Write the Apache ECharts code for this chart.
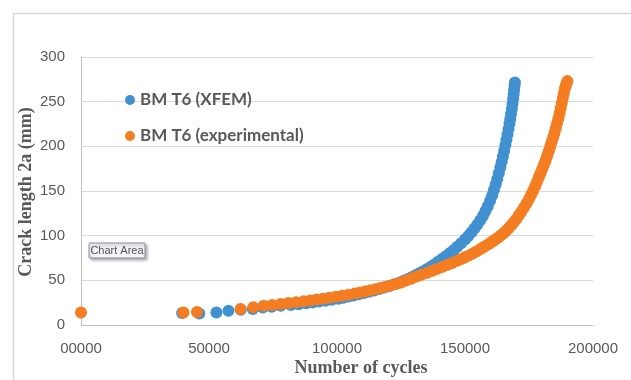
<!DOCTYPE html>
<html>
<head>
<meta charset="utf-8">
<script src="https://cdn.jsdelivr.net/npm/echarts@6/dist/echarts.min.js"></script>
<style>
  html, body { margin: 0; padding: 0; background: #fff; }
  #chart { width: 631px; height: 380px; }
</style>
</head>
<body>
<div id="chart"></div>
<script>
// Crack growth curves: crack length 2a (mm) against number of load cycles.
const seriesNames = ['BM T6 (XFEM)', 'BM T6 (experimental)'];

const xfemCycles = [
  39500, 46200, 52900, 57600, 62400, 67100, 71000, 74500, 78000, 82000,
  85000, 88000, 90500, 93000, 95500, 98000, 100500, 102500, 104500, 106500,
  108500, 110500, 112500, 114500, 116500, 118500, 120500, 122500, 124500, 126000,
  127500, 129000, 130500, 132000, 133500, 135000, 136500, 138000, 139500, 141000,
  142500, 144000, 145500, 147000, 148500, 150000, 151300, 152500, 153700, 154800,
  155900, 157000, 158000, 158900, 159800, 160600, 161300, 162000, 162600, 163200,
  163800, 164300, 164800, 165300, 165800, 166200, 166600, 167000, 167400, 167700,
  168000, 168300, 168550, 168800, 169000, 169200, 169350, 169500
];
const xfemCrack = [
  13.5, 13, 14, 16, 17, 18, 19.5, 20.5, 21.5, 22.5,
  23.3, 24.3, 25.2, 26.2, 27.2, 28.3, 29.5, 30.6, 31.8, 33,
  34.3, 35.7, 37.1, 38.6, 40.2, 41.9, 43.7, 45.6, 47.7, 49.4,
  51.3, 53.3, 55.5, 57.7, 60, 62.5, 65, 67.8, 70.7, 73.8,
  77, 80.3, 83.8, 87.5, 91.5, 95.7, 99.7, 103.8, 108, 112.3,
  117, 122, 127.5, 133, 139, 145, 151, 157.5, 163.5, 170,
  176.5, 182.5, 188.5, 195, 201.5, 207.5, 213.5, 219.5, 225.5, 231,
  236.5, 242, 247.5, 253, 258, 263, 267.5, 271.5
];

const expCycles = [
  0, 40000, 45300, 62300, 67300, 71400, 74700, 78000, 81000, 84000,
  87000, 89500, 92000, 94500, 97000, 99500, 102000, 104500, 107000, 109000,
  111000, 113000, 115000, 117000, 119000, 121000, 123000, 125000, 127000, 129000,
  131000, 133000, 135000, 137000, 139000, 141000, 143000, 145000, 147000, 148500,
  150000, 151500, 153000, 154500, 156000, 157500, 159000, 160000, 161000, 162000,
  163000, 164000, 165000, 166000, 167000, 168000, 169000, 170000, 171000, 172000,
  173000, 174000, 175000, 175800, 176600, 177400, 178100, 178800, 179500, 180200,
  180900, 181500, 182100, 182700, 183300, 183900, 184500, 185000, 185500, 186000,
  186500, 187000, 187400, 187800, 188200, 188600, 189000, 189400, 189800, 190000
];
const expCrack = [
  14, 14, 14.5, 18, 20, 21.5, 22.5, 23.5, 24.5, 25.5,
  26.5, 27.5, 28.5, 29.5, 30.5, 31.6, 32.7, 33.9, 35.2, 36.4,
  37.6, 38.8, 40, 41.3, 42.7, 44.2, 45.9, 47.7, 49.7, 51.9,
  54.2, 56.3, 58.3, 60.4, 62.6, 64.8, 67.1, 69.5, 72, 73.8,
  75.8, 77.8, 80, 82.4, 85, 87.6, 90, 92, 94, 96,
  98, 100.3, 102.7, 105.3, 108.2, 111.4, 114.8, 118.5, 122.5, 126.8,
  131.2, 136, 141, 145.5, 150.3, 155.3, 160, 165, 170, 175,
  180, 184.5, 189.5, 194.5, 199.8, 205, 210.5, 215.5, 220.5, 226,
  231.5, 237.5, 243, 248.5, 254, 259.5, 264.5, 268.5, 271.5, 273
];

const xTicks = { min: 0, max: 200000, interval: 50000 };
const yTicks = { min: 0, max: 300, interval: 50 };

const pairs = (xs, ys) => xs.map((x, i) => [x, ys[i]]);

const gray = '#595959';
const tickFont = 'Liberation Sans';

const chart = echarts.init(document.getElementById('chart'), null, { renderer: 'canvas' });

chart.setOption({
  backgroundColor: '#ffffff',
  animation: false,
  color: ['#4191d1', '#f47d22'],
  grid: { left: 81, right: 38, top: 57, bottom: 55, containLabel: false },
  legend: {
    orient: 'vertical',
    left: 120,
    top: 86,
    icon: 'circle',
    itemWidth: 10,
    itemHeight: 10,
    itemGap: 18,
    textStyle: { color: gray, fontFamily: 'Lato', fontWeight: 'bold', fontSize: 17, lineHeight: 18 },
    data: seriesNames
  },
  xAxis: {
    type: 'value',
    min: xTicks.min, max: xTicks.max, interval: xTicks.interval,
    axisLine: { show: true, lineStyle: { color: '#bfbfbf', width: 1 } },
    axisTick: { show: false },
    splitLine: { show: false },
    axisLabel: {
      color: gray, fontFamily: tickFont, fontSize: 15, margin: 16,
      formatter: v => (v === 0 ? '00000' : String(v))
    }
  },
  yAxis: {
    type: 'value',
    min: yTicks.min, max: yTicks.max, interval: yTicks.interval,
    axisLine: { show: true, lineStyle: { color: '#bfbfbf', width: 1 } },
    axisTick: { show: false },
    splitLine: { show: true, lineStyle: { color: '#d9d9d9', width: 1 } },
    axisLabel: { color: gray, fontFamily: tickFont, fontSize: 15, margin: 16 }
  },
  series: [
    {
      name: seriesNames[0], type: 'scatter', symbol: 'circle', symbolSize: 12,
      data: pairs(xfemCycles, xfemCrack), itemStyle: { opacity: 1 }
    },
    {
      name: seriesNames[1], type: 'scatter', symbol: 'circle', symbolSize: 12,
      data: pairs(expCycles, expCrack), itemStyle: { opacity: 1 }
    }
  ],
  graphic: [
    // outer chart-area frame
    {
      type: 'rect', left: 11, top: 11, silent: true, z: -1,
      shape: { width: 640, height: 400 },
      style: { fill: 'none', stroke: '#d9d9d9', lineWidth: 1.5 }
    },
    // axis titles
    {
      type: 'text', x: 26, y: 192, rotation: Math.PI / 2,
      style: {
        text: 'Crack length 2a (mm)', fill: gray,
        font: 'bold 18px "Liberation Serif"', align: 'center', verticalAlign: 'middle'
      }
    },
    {
      type: 'text', x: 361, y: 368,
      style: {
        text: 'Number of cycles', fill: gray,
        font: 'bold 18px "Liberation Serif"', align: 'center', verticalAlign: 'middle'
      }
    },
    // "Chart Area" hover label
    {
      type: 'rect', x: 89, y: 243, silent: true, z: 10,
      shape: { width: 56, height: 15, r: 1 },
      style: { fill: '#f4f4f8', stroke: '#8a8a99', lineWidth: 1,
        shadowBlur: 3, shadowOffsetX: 2, shadowOffsetY: 2, shadowColor: 'rgba(0,0,0,0.3)' }
    },
    {
      type: 'text', x: 117, y: 250.5, z: 11,
      style: { text: 'Chart Area', fill: '#555', font: '11px "Liberation Sans"', align: 'center', verticalAlign: 'middle' }
    }
  ]
});
</script>
</body>
</html>
